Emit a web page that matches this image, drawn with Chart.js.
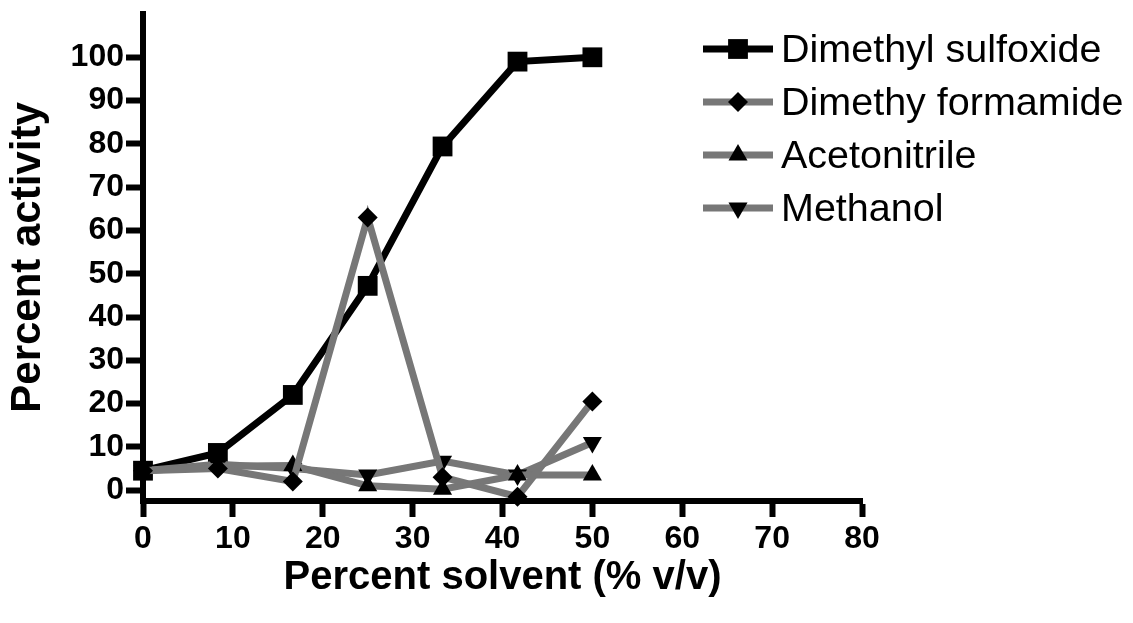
<!DOCTYPE html>
<html>
<head>
<meta charset="utf-8">
<script src="https://cdn.jsdelivr.net/npm/chart.js@4.4.1/dist/chart.umd.min.js"></script>
<style>
  html, body { margin: 0; padding: 0; background: #fff; }
  #wrap { width: 1133px; height: 623px; }
</style>
</head>
<body>
<div id="wrap"><canvas id="activityChart" width="1133" height="623"></canvas></div>
<script>
// Percent solvent (% v/v) on the x axis
const solventPct = [0, 8.33, 16.67, 25, 33.33, 41.67, 50];

// Percent activity for each solvent
const dmso = [4.5, 8.6, 22, 47.2, 79.4, 99, 100];
const dmf = [4.5, 5, 2, 63, 3, -1.5, 20.5];
const acetonitrile = [4.5, 5.5, 5.7, 1, 0.2, 3.5, 3.5];
const methanol = [4.5, 6, 5, 3.5, 6.7, 3.5, 11];

const seriesNames = ['Dimethyl sulfoxide', 'Dimethy formamide', 'Acetonitrile', 'Methanol'];

const xTicks = [0, 10, 20, 30, 40, 50, 60, 70, 80];
const yTicks = [0, 10, 20, 30, 40, 50, 60, 70, 80, 90, 100];

const FONT = '"Liberation Sans", Arial, Helvetica, sans-serif';
const GREY = '#777777';

function toPoints(values) {
    return values.map((v, i) => ({ x: solventPct[i], y: v }));
}

// draw a marker the same way for the legend
function drawMarker(ctx, style, rot, r, x, y) {
    ctx.beginPath();
    if (style === 'rect') {
        const s = Math.SQRT1_2 * r;
        ctx.rect(x - s, y - s, 2 * s, 2 * s);
    } else if (style === 'rectRot') {
        ctx.moveTo(x - r, y); ctx.lineTo(x, y - r); ctx.lineTo(x + r, y); ctx.lineTo(x, y + r);
        ctx.closePath();
    } else {
        let a = rot * Math.PI / 180;
        for (let k = 0; k < 3; k++) {
            const px = x + Math.sin(a) * r, py = y - Math.cos(a) * r;
            if (k === 0) ctx.moveTo(px, py); else ctx.lineTo(px, py);
            a += 2 * Math.PI / 3;
        }
        ctx.closePath();
    }
    ctx.fill();
}

// legend inside the plot, top right, line + marker + name
const sideLegend = {
    id: 'sideLegend',
    afterDraw(chart) {
        const ctx = chart.ctx;
        const rows = [49, 102, 155, 208];
        chart.data.datasets.forEach((ds, i) => {
            const y = rows[i];
            ctx.save();
            ctx.strokeStyle = ds.borderColor;
            ctx.lineWidth = ds.borderWidth;
            ctx.beginPath();
            ctx.moveTo(703, y);
            ctx.lineTo(773, y);
            ctx.stroke();
            ctx.fillStyle = '#000';
            drawMarker(ctx, ds.pointStyle, ds.pointRotation || 0, ds.pointRadius, 738, y);
            ctx.font = '39.5px ' + FONT;
            ctx.textBaseline = 'middle';
            ctx.textAlign = 'left';
            ctx.fillText(seriesNames[i], 781, y + 2);
            ctx.restore();
        });
    }
};

const lineBase = {
    borderWidth: 7,
    pointBackgroundColor: '#000',
    pointBorderColor: '#000',
    pointBorderWidth: 0,
    pointHoverRadius: 12,
    fill: false,
    tension: 0,
    clip: false
};

const ctx = document.getElementById('activityChart').getContext('2d');

new Chart(ctx, {
    type: 'line',
    data: {
        datasets: [
            Object.assign({}, lineBase, {
                label: seriesNames[0], data: toPoints(dmso),
                borderColor: '#000', pointStyle: 'rect', pointRadius: 14, order: 4
            }),
            Object.assign({}, lineBase, {
                label: seriesNames[1], data: toPoints(dmf),
                borderColor: GREY, pointStyle: 'rectRot', pointRadius: 10, order: 1
            }),
            Object.assign({}, lineBase, {
                label: seriesNames[2], data: toPoints(acetonitrile),
                borderColor: GREY, pointStyle: 'triangle', pointRadius: 11, order: 2
            }),
            Object.assign({}, lineBase, {
                label: seriesNames[3], data: toPoints(methanol),
                borderColor: GREY, pointStyle: 'triangle', pointRotation: 180, pointRadius: 11, order: 3
            })
        ]
    },
    options: {
        responsive: false,
        animation: false,
        layout: { padding: { top: 13, right: 271, bottom: 0, left: 0 } },
        plugins: {
            legend: { display: false },
            tooltip: { enabled: false },
            title: { display: false }
        },
        scales: {
            x: {
                type: 'linear',
                min: 0,
                max: 80,
                afterBuildTicks: axis => { axis.ticks = xTicks.map(v => ({ value: v })); },
                afterFit: axis => { axis.height = 122; axis.paddingLeft = 0; axis.paddingRight = 0; },
                border: { display: true, color: '#000', width: 6 },
                grid: { display: true, drawOnChartArea: false, drawTicks: true, tickLength: 16, tickWidth: 6, tickColor: '#000' },
                ticks: {
                    color: '#000',
                    padding: 3,
                    maxRotation: 0,
                    autoSkip: false,
                    font: { family: FONT, size: 32, weight: 'bold' }
                },
                title: {
                    display: true,
                    text: 'Percent solvent (% v/v)',
                    color: '#000',
                    font: { family: FONT, size: 40, weight: 'bold' },
                    padding: { top: 0, bottom: 21 }
                }
            },
            y: {
                type: 'linear',
                min: -2.5,
                max: 110,
                afterBuildTicks: axis => { axis.ticks = yTicks.map(v => ({ value: v })); },
                afterFit: axis => { axis.width = 143; axis.paddingTop = 0; axis.paddingBottom = 0; },
                border: { display: true, color: '#000', width: 6 },
                grid: { display: true, drawOnChartArea: false, drawTicks: true, tickLength: 17, tickWidth: 6, tickColor: '#000' },
                ticks: {
                    color: '#000',
                    padding: 2,
                    autoSkip: false,
                    font: { family: FONT, size: 32, weight: 'bold' }
                },
                title: {
                    display: true,
                    text: 'Percent activity',
                    color: '#000',
                    font: { family: FONT, size: 42, weight: 'bold' },
                    padding: { top: 3, bottom: 0 }
                }
            }
        }
    },
    plugins: [sideLegend]
});
</script>
</body>
</html>
